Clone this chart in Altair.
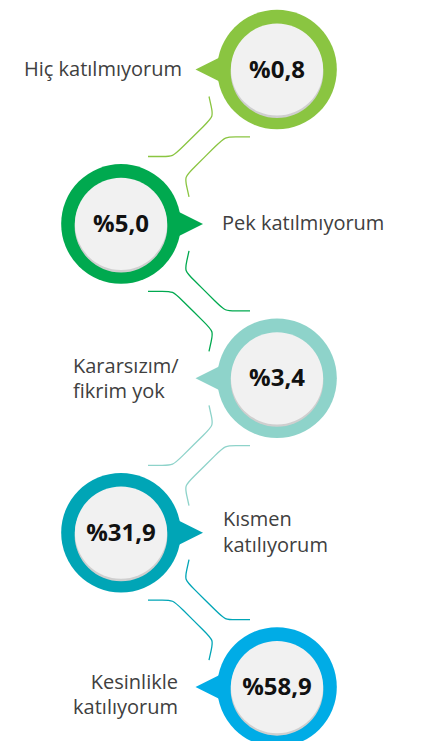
import math
import altair as alt
import pandas as pd

# ---------------- data ----------------
categories = [
    "Hiç katılmıyorum",
    "Pek katılmıyorum",
    "Kararsızım/\nfikrim yok",
    "Kısmen\nkatılıyorum",
    "Kesinlikle\nkatılıyorum",
]
values = [0.8, 5.0, 3.4, 31.9, 58.9]
ring_colors = ["#8AC541", "#00A94F", "#8ED3CA", "#00A5B6", "#00ACE6"]

# ---------------- layout ----------------
W, H = 426, 733          # plot area (page pixels minus 8px margin)
M = 8                    # page margin -> scale domains in page pixels
RIGHT_X, LEFT_X = 277, 121
TOP_Y, STEP = 69.5, 154.4
R_OUT, R_IN = 67.5, 52

# label anchor per slot: (align, dx from circle centre, dy of first baseline)
label_layout = [
    ("right", -95, 6.5),
    ("left", 101, 6.0),
    ("left", -204, -5.5),
    ("left", 102, -6.5),
    ("right", -99, 1.5),
]

rows = []
for i, (cat, v, col) in enumerate(zip(categories, values, ring_colors)):
    right = (i % 2 == 0)
    cx = RIGHT_X if right else LEFT_X
    cy = TOP_Y + STEP * i
    al, ldx, ldy = label_layout[i]
    rows.append(dict(
        i=i, cat=cat, vlabel="%" + f"{v:.1f}".replace(".", ","), color=col,
        cx=cx, cy=cy, sy=cy + 2.2, ty=cy + 8,
        px=cx - 69.5 if right else cx + 70, dir="L" if right else "R",
        lx=cx + ldx, ly=cy + ldy, align=al,
    ))
df = pd.DataFrame(rows)

# connector path (relative to the upper circle centre, upper circle on the right):
# start, corner, corner, end -- corners get rounded
P0, C1, C2, P3 = (-68, 27), (-63.6, 47), (-104, 87), (-129, 87)
RND = 10


def _unit(a, b):
    dx, dy = b[0] - a[0], b[1] - a[1]
    n = math.hypot(dx, dy)
    return dx / n, dy / n


def rounded(p0, c1, c2, p3, r):
    u1, u2, u3 = _unit(p0, c1), _unit(c1, c2), _unit(c2, p3)
    return [
        p0,
        (c1[0] - r * u1[0], c1[1] - r * u1[1]), c1, (c1[0] + r * u2[0], c1[1] + r * u2[1]),
        (c2[0] - r * u2[0], c2[1] - r * u2[1]), c2, (c2[0] + r * u3[0], c2[1] + r * u3[1]),
        p3,
    ]


conn_rel = rounded(P0, C1, C2, P3, RND)
lines = []
cid = 0
for i in range(len(categories) - 1):
    a, b = rows[i], rows[i + 1]
    sgn = 1 if a["cx"] > b["cx"] else -1
    mx, my = (a["cx"] + b["cx"]) / 2, (a["cy"] + b["cy"]) / 2
    pts = [(a["cx"] + sgn * dx, a["cy"] + dy) for dx, dy in conn_rel]
    for k, (x, y) in enumerate(pts):
        lines.append(dict(conn=cid, k=k, x=x, y=y, color=a["color"]))
    cid += 1
    for k, (x, y) in enumerate(pts):
        lines.append(dict(conn=cid, k=k, x=2 * mx - x, y=2 * my - y, color=a["color"]))
    cid += 1
ldf = pd.DataFrame(lines)

xs = alt.Scale(domain=[M, M + W], nice=False, zero=False)
ys = alt.Scale(domain=[M, M + H], nice=False, zero=False, reverse=True)

base = alt.Chart(df)

connectors = alt.Chart(ldf).mark_line(interpolate="basis", strokeWidth=1.3).encode(
    x=alt.X("x:Q", scale=xs, axis=None),
    y=alt.Y("y:Q", scale=ys, axis=None),
    detail="conn:N",
    order="k:Q",
    color=alt.Color("color:N", scale=None),
)

ring = base.mark_circle(size=math.pi * R_OUT ** 2, opacity=1, clip=True).encode(
    x=alt.X("cx:Q", scale=xs, axis=None),
    y=alt.Y("cy:Q", scale=ys, axis=None),
    color=alt.Color("color:N", scale=None),
)

pointer = base.mark_point(filled=True, size=576, opacity=1, strokeWidth=0).encode(
    x=alt.X("px:Q", scale=xs, axis=None),
    y=alt.Y("cy:Q", scale=ys, axis=None),
    color=alt.Color("color:N", scale=None),
    shape=alt.Shape("dir:N", scale=alt.Scale(domain=["L", "R"],
                    range=["M-1,0L1,-1L1,1Z", "M1,0L-1,-1L-1,1Z"]), legend=None),
)

shadow = base.mark_circle(size=math.pi * (R_IN + 0.3) ** 2, opacity=1, color="#cfcfcf", clip=True).encode(
    x=alt.X("cx:Q", scale=xs, axis=None),
    y=alt.Y("sy:Q", scale=ys, axis=None),
)

inner = base.mark_circle(size=math.pi * R_IN ** 2, opacity=1, color="#f1f1f1", clip=True).encode(
    x=alt.X("cx:Q", scale=xs, axis=None),
    y=alt.Y("cy:Q", scale=ys, axis=None),
)

vtext = base.mark_text(font="Open Sans", fontSize=24, fontWeight="bold", color="#111111",
                       align="center", baseline="alphabetic").encode(
    x=alt.X("cx:Q", scale=xs, axis=None),
    y=alt.Y("ty:Q", scale=ys, axis=None),
    text="vlabel:N",
)


def label_layer(al):
    return base.transform_filter(alt.datum.align == al).mark_text(
        font="Open Sans", fontSize=20, color="#404040", align=al, baseline="alphabetic",
        lineBreak="\n", lineHeight=25.5,
    ).encode(
        x=alt.X("lx:Q", scale=xs, axis=None),
        y=alt.Y("ly:Q", scale=ys, axis=None),
        text="cat:N",
    )


chart = alt.layer(
    connectors, ring, pointer, shadow, inner, vtext, label_layer("left"), label_layer("right")
).properties(
    width=W, height=H, padding=0, autosize=alt.AutoSizeParams(type="none"), background="white"
).configure_view(stroke=None)

chart.save("out.html", embed_options={"renderer": "svg", "actions": False})
